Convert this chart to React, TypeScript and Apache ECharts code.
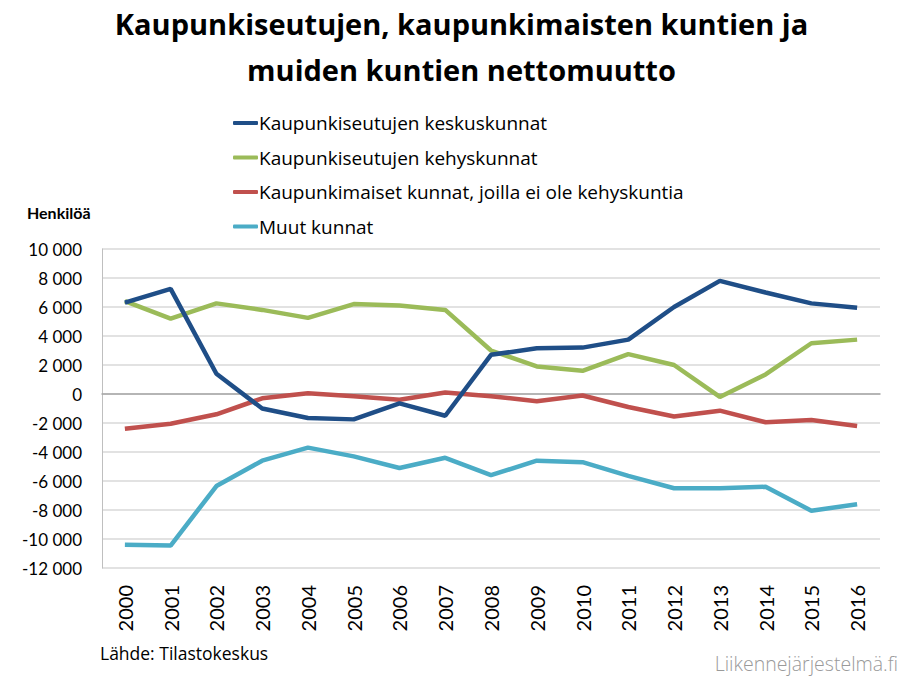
import React, { useEffect, useRef } from "react";
import * as echarts from "echarts";

const years = ["2000","2001","2002","2003","2004","2005","2006","2007","2008","2009","2010","2011","2012","2013","2014","2015","2016"];
const keskuskunnat = [6300, 7250, 1400, -1000, -1650, -1750, -650, -1500, 2700, 3150, 3200, 3750, 6000, 7800, 7000, 6250, 5950];
const kehyskunnat = [6400, 5200, 6250, 5800, 5250, 6200, 6100, 5800, 3000, 1900, 1600, 2750, 2000, -200, 1350, 3500, 3750];
const kaupunkimaiset = [-2400, -2050, -1400, -300, 50, -150, -400, 100, -150, -500, -100, -900, -1550, -1150, -1950, -1800, -2200];
const muut = [-10400, -10450, -6350, -4600, -3700, -4300, -5100, -4400, -5600, -4600, -4700, -5650, -6500, -6500, -6400, -8050, -7600];

const seriesNames = [
  "Kaupunkiseutujen keskuskunnat",
  "Kaupunkiseutujen kehyskunnat",
  "Kaupunkimaiset kunnat, joilla ei ole kehyskuntia",
  "Muut kunnat",
];
const seriesData = [keskuskunnat, kehyskunnat, kaupunkimaiset, muut];
const colors = ["#1F4E87", "#9BBB59", "#C0504D", "#4BACC6"];

const LATO = "Lato, 'Open Sans', sans-serif";
const OPEN = "'Open Sans', 'Noto Sans', sans-serif";

export default function App() {
  const ref = useRef<HTMLDivElement>(null);
  useEffect(() => {
    document.body.style.margin = "0";
    const chart = echarts.init(ref.current!, null, { renderer: "svg" });
    chart.setOption({
      animation: false,
      backgroundColor: "#ffffff",
      textStyle: { fontFamily: OPEN },
      title: {
        text: "Kaupunkiseutujen, kaupunkimaisten kuntien ja\nmuiden kuntien nettomuutto",
        left: "center",
        top: 0,
        padding: 0,
        textStyle: { fontFamily: OPEN, fontWeight: "bold", fontSize: 29, lineHeight: 46, color: "#000" },
      },
      legend: {
        orient: "vertical",
        left: 233,
        top: 112,
        padding: 0,
        itemWidth: 25,
        itemHeight: 4,
        itemGap: 12.5,
        icon: "roundRect",
        data: seriesNames,
        textStyle: { fontFamily: OPEN, fontSize: 19, lineHeight: 22, color: "#000", padding: [0, 0, 0, -4] },
      },
      grid: { left: 102, right: 43, top: 249, bottom: 113, containLabel: false },
      xAxis: {
        type: "category",
        data: years,
        boundaryGap: true,
        axisLine: { show: true, onZero: true, lineStyle: { color: "#a6a6a6", width: 1.5 } },
        axisTick: { show: false },
        axisLabel: { rotate: 90, margin: 17, fontSize: 20, color: "#000", fontFamily: LATO },
      },
      yAxis: {
        type: "value",
        min: -12000,
        max: 10000,
        interval: 2000,
        axisLine: { show: true, lineStyle: { color: "#bfbfbf" } },
        axisTick: { show: false },
        splitLine: { lineStyle: { color: "#d9d9d9", width: 1.5 } },
        axisLabel: {
          fontSize: 17,
          color: "#000",
          margin: 20,
          fontFamily: LATO,
          formatter: (v: number) => {
            const s = Math.abs(v).toString().replace(/\B(?=(\d{3})+(?!\d))/g, " ");
            return (v < 0 ? "-" : "") + s;
          },
        },
      },
      series: seriesNames.map((name, i) => ({
        name,
        type: "line",
        data: seriesData[i],
        symbol: "none",
        lineStyle: { color: colors[i], width: 4.5 },
        itemStyle: { color: colors[i] },
        z: 10 - i,
      })),
      graphic: [
        { type: "text", left: 27, top: 204, style: { text: "Henkilöä", fontFamily: LATO, fontWeight: "bold", fontSize: 16, fill: "#000" } },
        { type: "text", left: 100, top: 644, style: { text: "Lähde: Tilastokeskus", fontFamily: OPEN, fontSize: 17.5, fill: "#000" } },
        { type: "text", right: 25, top: 653, style: { text: "Liikennejärjestelmä.fi", fontFamily: OPEN, fontWeight: 300, fontSize: 19.5, fill: "#9a9a9a" } },
      ],
    });
    return () => chart.dispose();
  }, []);
  return <div ref={ref} style={{ width: 923, height: 681 }} />;
}
